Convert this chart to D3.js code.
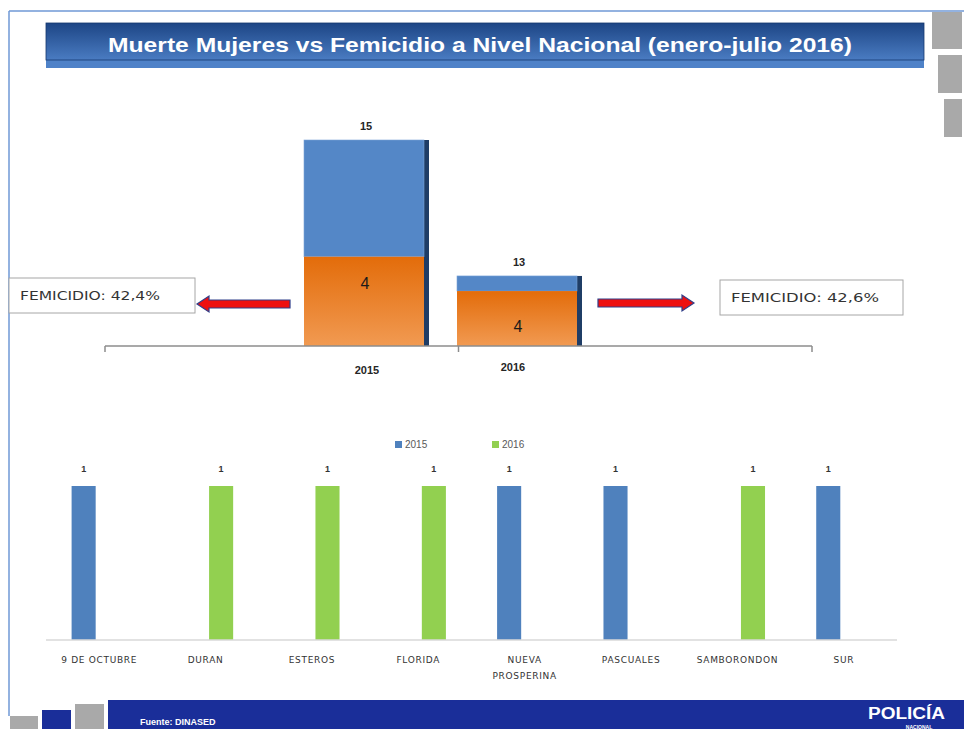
<!DOCTYPE html>
<html>
<head>
<meta charset="utf-8">
<script src="https://cdn.jsdelivr.net/npm/d3@7"></script>
<style>
  html, body { margin: 0; padding: 0; background: #fff; }
  svg { display: block; }
  text { font-family: "Liberation Sans", "DejaVu Sans", sans-serif; }
  .wide { font-family: "DejaVu Sans", sans-serif; }
</style>
</head>
<body>
<div id="chart"></div>
<script>
// top chart: totals vs femicidio
var years = ["2015", "2016"];
var totalLabels = [15, 13];
var femicidioLabels = [4, 4];
// segment heights as drawn on the slide (the slide's bars are not to scale with the labels)
var femicidioBar = [6.5, 4];
var restoBar = [8.5, 1.1];
var femicidioText = ["FEMICIDIO: 42,4%", "FEMICIDIO: 42,6%"];

// bottom chart: by district
var districts = ["9 DE OCTUBRE", "DURAN", "ESTEROS", "FLORIDA", "NUEVA PROSPERINA", "PASCUALES", "SAMBORONDON", "SUR"];
var series = ["2015", "2016"];
var values2015 = [1, 0, 0, 0, 1, 1, 0, 1];
var values2016 = [0, 1, 1, 1, 0, 0, 1, 0];

var w = 964, h = 729;

var svg = d3.select("#chart")
  .append("svg")
  .attr("width", w)
  .attr("height", h);

var defs = svg.append("defs");

var bannerGrad = defs.append("linearGradient")
  .attr("id", "bannerGrad")
  .attr("x1", 0).attr("y1", 0).attr("x2", 0).attr("y2", 1);
bannerGrad.append("stop").attr("offset", "0%").attr("stop-color", "#1d4585");
bannerGrad.append("stop").attr("offset", "100%").attr("stop-color", "#4a7cc2");

var orangeGrad = defs.append("linearGradient")
  .attr("id", "orangeGrad")
  .attr("x1", 0).attr("y1", 0).attr("x2", 0).attr("y2", 1);
orangeGrad.append("stop").attr("offset", "0%").attr("stop-color", "#e36c0a");
orangeGrad.append("stop").attr("offset", "100%").attr("stop-color", "#f19a52");

// slide frame
svg.append("line")
  .attr("x1", 9).attr("x2", w).attr("y1", 11).attr("y2", 11)
  .attr("stroke", "#6f99d6").attr("stroke-width", 1.5);
svg.append("line")
  .attr("x1", 9).attr("x2", 9).attr("y1", 11).attr("y2", 716)
  .attr("stroke", "#6f99d6").attr("stroke-width", 1.5);

// gray blocks on the right
var grayBlocks = [[932, 12, 30, 37], [938, 55, 24, 38], [944, 99, 18, 38]];
svg.selectAll(".gblock")
  .data(grayBlocks)
  .enter()
  .append("rect")
  .attr("x", d => d[0]).attr("y", d => d[1])
  .attr("width", d => d[2]).attr("height", d => d[3])
  .attr("fill", "#a9a9a9");

// title banner
svg.append("rect")
  .attr("x", 46).attr("y", 58).attr("width", 878).attr("height", 10)
  .attr("fill", "#4f82c8");
svg.append("rect")
  .attr("x", 46).attr("y", 23).attr("width", 878).attr("height", 37)
  .attr("fill", "url(#bannerGrad)")
  .attr("stroke", "#16386e").attr("stroke-width", 0.8);
svg.append("text")
  .attr("x", 480).attr("y", 52)
  .attr("text-anchor", "middle")
  .attr("textLength", 744)
  .attr("lengthAdjust", "spacingAndGlyphs")
  .style("font-size", "20px")
  .style("font-weight", "bold")
  .style("fill", "#ffffff")
  .text("Muerte Mujeres vs Femicidio a Nivel Nacional (enero-julio 2016)");

// ---------- top chart ----------
var baseY = 346;
var yTop = d3.scaleLinear().domain([0, 15]).range([baseY, 140]);
var xTop = d3.scalePoint().domain(years).range([364, 517]);
var axisBand = d3.scaleBand().domain(years).range([105, 812]);
var barW = 120;

var topData = years.map(function(y, i){
  return {year: y, fem: femicidioBar[i], resto: restoBar[i], total: totalLabels[i], femLabel: femicidioLabels[i]};
});

var gTop = svg.append("g");

// dark side edge
gTop.selectAll(".edge")
  .data(topData)
  .enter()
  .append("rect")
  .attr("x", d => xTop(d.year) + barW / 2)
  .attr("y", d => yTop(d.fem + d.resto))
  .attr("width", 5)
  .attr("height", d => baseY - yTop(d.fem + d.resto))
  .attr("fill", "#1f3d66");

gTop.selectAll(".resto")
  .data(topData)
  .enter()
  .append("rect")
  .attr("x", d => xTop(d.year) - barW / 2)
  .attr("y", d => yTop(d.fem + d.resto))
  .attr("width", barW)
  .attr("height", d => yTop(d.fem) - yTop(d.fem + d.resto))
  .attr("fill", "#5487c7")
  .attr("stroke", "#7aa3d8").attr("stroke-width", 0.6);

gTop.selectAll(".fem")
  .data(topData)
  .enter()
  .append("rect")
  .attr("x", d => xTop(d.year) - barW / 2)
  .attr("y", d => yTop(d.fem))
  .attr("width", barW)
  .attr("height", d => baseY - yTop(d.fem))
  .attr("fill", "url(#orangeGrad)");

gTop.selectAll(".totLabel")
  .data(topData)
  .enter()
  .append("text")
  .attr("x", d => xTop(d.year) + 2)
  .attr("y", d => yTop(d.fem + d.resto) - 10)
  .attr("text-anchor", "middle")
  .style("font-size", "11px")
  .style("font-weight", "bold")
  .style("fill", "#262626")
  .text(d => d.total);

gTop.selectAll(".femLabel")
  .data(topData)
  .enter()
  .append("text")
  .attr("x", d => xTop(d.year) + 1)
  .attr("y", (d, i) => yTop(d.fem) + (i == 0 ? 32 : 41))
  .attr("text-anchor", "middle")
  .style("font-size", "16px")
  .style("fill", "#1a1a1a")
  .text(d => d.femLabel);

// axis
gTop.append("line")
  .attr("x1", axisBand.range()[0]).attr("x2", axisBand.range()[1])
  .attr("y1", baseY).attr("y2", baseY)
  .attr("stroke", "#8c8c8c").attr("stroke-width", 1.5);
var tickXs = years.map(y => axisBand(y)).concat([axisBand.range()[1]]);
gTop.selectAll(".tick")
  .data(tickXs)
  .enter()
  .append("line")
  .attr("x1", d => d).attr("x2", d => d)
  .attr("y1", baseY).attr("y2", baseY + 6)
  .attr("stroke", "#8c8c8c").attr("stroke-width", 1.5);

gTop.selectAll(".yearLabel")
  .data(topData)
  .enter()
  .append("text")
  .attr("x", d => xTop(d.year) + (d.year == "2015" ? 3 : -4))
  .attr("y", (d, i) => i == 0 ? 374 : 371)
  .attr("text-anchor", "middle")
  .style("font-size", "11px")
  .style("font-weight", "bold")
  .style("fill", "#262626")
  .text(d => d.year);

// femicidio boxes
var boxes = [
  {x: 9, y: 278, w: 186, h: 35, tw: 140, text: femicidioText[0]},
  {x: 720, y: 280, w: 183, h: 35, tw: 148, text: femicidioText[1]}
];
svg.selectAll(".fbox")
  .data(boxes)
  .enter()
  .append("rect")
  .attr("x", d => d.x).attr("y", d => d.y)
  .attr("width", d => d.w).attr("height", d => d.h)
  .attr("fill", "#fff")
  .attr("stroke", "#a6a6a6").attr("stroke-width", 1);
svg.selectAll(".ftext")
  .data(boxes)
  .enter()
  .append("text")
  .attr("class", "wide")
  .attr("x", d => d.x + 11)
  .attr("y", d => d.y + 22)
  .attr("textLength", d => d.tw)
  .attr("lengthAdjust", "spacingAndGlyphs")
  .style("font-size", "12.5px")
  .style("fill", "#333")
  .text(d => d.text);

// arrows
function arrowPath(x0, x1, y){
  var dir = x1 > x0 ? 1 : -1;
  var headLen = 12, shaft = 4, head = 8;
  var xb = x1 - dir * headLen;
  return "M" + x0 + "," + (y - shaft) +
    "L" + xb + "," + (y - shaft) +
    "L" + xb + "," + (y - head) +
    "L" + x1 + "," + y +
    "L" + xb + "," + (y + head) +
    "L" + xb + "," + (y + shaft) +
    "L" + x0 + "," + (y + shaft) + "Z";
}
svg.append("path")
  .attr("d", arrowPath(290, 197, 304))
  .attr("fill", "#ee1010").attr("stroke", "#2f3f8a").attr("stroke-width", 1.2);
svg.append("path")
  .attr("d", arrowPath(598, 694, 303))
  .attr("fill", "#ee1010").attr("stroke", "#2f3f8a").attr("stroke-width", 1.2);

// ---------- bottom chart ----------
var bBase = 640;
var x0 = d3.scaleBand().domain(districts).range([46, 897]);
var x1 = d3.scaleBand().domain(series).range([0, x0.bandwidth()])
  .paddingInner(0.226).paddingOuter(0.823);
var yB = d3.scaleLinear().domain([0, 1]).range([bBase, 486]);
var color = d3.scaleOrdinal().domain(series).range(["#4f81bd", "#92d050"]);

var bData = [];
districts.forEach(function(d, i){
  bData.push({district: d, serie: "2015", value: values2015[i]});
  bData.push({district: d, serie: "2016", value: values2016[i]});
});
var shown = bData.filter(d => d.value > 0);

var gB = svg.append("g");
gB.selectAll(".dbar")
  .data(shown)
  .enter()
  .append("rect")
  .attr("x", d => x0(d.district) + x1(d.serie))
  .attr("y", d => yB(d.value))
  .attr("width", x1.bandwidth())
  .attr("height", d => bBase - yB(d.value))
  .attr("fill", d => color(d.serie));

gB.selectAll(".dval")
  .data(shown)
  .enter()
  .append("text")
  .attr("x", d => x0(d.district) + x1(d.serie) + x1.bandwidth() / 2)
  .attr("y", d => yB(d.value) - 14)
  .attr("text-anchor", "middle")
  .style("font-size", "9px")
  .style("font-weight", "bold")
  .style("fill", "#333")
  .text(d => d.value);

gB.append("line")
  .attr("x1", 46).attr("x2", 897)
  .attr("y1", bBase).attr("y2", bBase)
  .attr("stroke", "#d9d9d9").attr("stroke-width", 1.5);

var catText = gB.selectAll(".dcat")
  .data(districts)
  .enter()
  .append("text")
  .attr("class", "wide")
  .attr("x", d => x0(d) + x0.bandwidth() / 2)
  .attr("y", 663)
  .attr("text-anchor", "middle")
  .style("font-size", "9px")
  .style("letter-spacing", "0.7px")
  .style("fill", "#333");
catText.each(function(d){
  var parts = d == "NUEVA PROSPERINA" ? ["NUEVA", "PROSPERINA"] : [d];
  var t = d3.select(this);
  parts.forEach(function(p, j){
    t.append("tspan")
      .attr("x", x0(d) + x0.bandwidth() / 2)
      .attr("dy", j == 0 ? 0 : 16)
      .text(p);
  });
});

// legend
var legend = svg.selectAll(".legend")
  .data(series)
  .enter()
  .append("g")
  .attr("transform", (d, i) => "translate(" + (395 + i * 97) + ",441)");
legend.append("rect")
  .attr("width", 7).attr("height", 7)
  .attr("fill", d => color(d));
legend.append("text")
  .attr("x", 10).attr("y", 7)
  .style("font-size", "10px")
  .style("fill", "#595959")
  .text(d => d);

// ---------- footer ----------
var footBlocks = [[10, 716, 28, 13, "#a9a9a9"], [42, 710, 29, 19, "#1a2e99"], [75, 704, 29, 25, "#a9a9a9"]];
svg.selectAll(".fblock")
  .data(footBlocks)
  .enter()
  .append("rect")
  .attr("x", d => d[0]).attr("y", d => d[1])
  .attr("width", d => d[2]).attr("height", d => d[3])
  .attr("fill", d => d[4]);
svg.append("rect")
  .attr("x", 108).attr("y", 700).attr("width", w - 108).attr("height", 29)
  .attr("fill", "#1a2e99");
svg.append("text")
  .attr("x", 140).attr("y", 725)
  .style("font-size", "9px")
  .style("font-weight", "bold")
  .style("fill", "#fff")
  .text("Fuente: DINASED");
svg.append("text")
  .attr("x", 868).attr("y", 719)
  .attr("textLength", 77)
  .attr("lengthAdjust", "spacingAndGlyphs")
  .style("font-size", "16px")
  .style("font-weight", "bold")
  .style("fill", "#fff")
  .text("POLICÍA");
svg.append("text")
  .attr("x", 919).attr("y", 729)
  .attr("text-anchor", "middle")
  .style("font-size", "5px")
  .style("font-weight", "bold")
  .style("fill", "#fff")
  .text("NACIONAL");
</script>
</body>
</html>
